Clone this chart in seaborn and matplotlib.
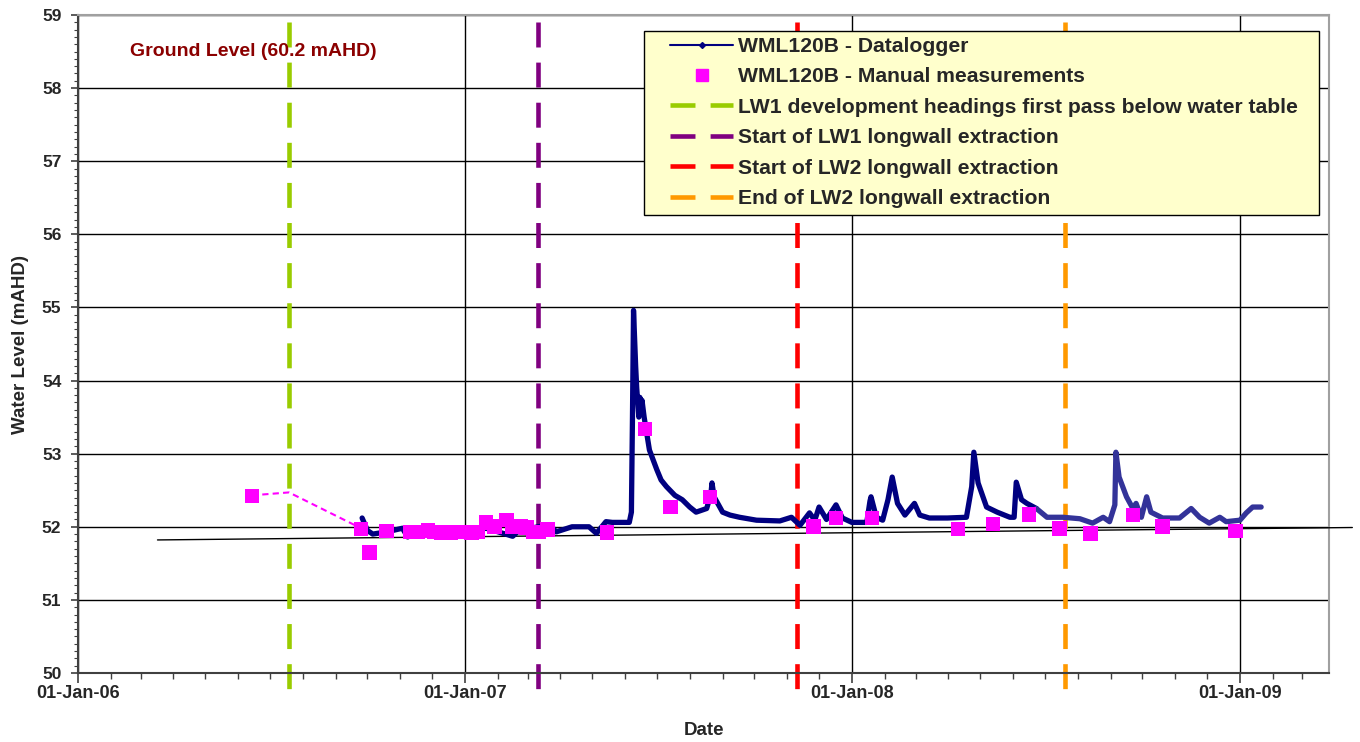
import numpy as np
import pandas as pd
import matplotlib
matplotlib.use("Agg")
import matplotlib.pyplot as plt
import matplotlib.dates as mdates
from matplotlib.lines import Line2D
from matplotlib.patches import Rectangle
import seaborn as sns

# ---------------- data ----------------
logger_dates = [
    "2006-09-26", "2006-10-01", "2006-10-06", "2006-10-19", "2006-11-03", "2006-11-08",
    "2006-11-13", "2006-12-08", "2007-01-02", "2007-01-21", "2007-02-15", "2007-02-21",
    "2007-03-22", "2007-03-28", "2007-04-12", "2007-04-28", "2007-05-05", "2007-05-14",
    "2007-05-20", "2007-06-05", "2007-06-07", "2007-06-08", "2007-06-09", "2007-06-11",
    "2007-06-12", "2007-06-14", "2007-06-15", "2007-06-16", "2007-06-17", "2007-06-19",
    "2007-06-21", "2007-06-24", "2007-07-01", "2007-07-05", "2007-07-10", "2007-07-18",
    "2007-07-25", "2007-08-01", "2007-08-07",
    "2007-08-17", "2007-08-21", "2007-08-22", "2007-08-24", "2007-09-01", "2007-09-08",
    "2007-09-17",
    "2007-10-03", "2007-10-25", "2007-11-05", "2007-11-13", "2007-11-22", "2007-11-27",
    "2007-12-01", "2007-12-08", "2007-12-17", "2007-12-23", "2008-01-01", "2008-01-15",
    "2008-01-18", "2008-01-19", "2008-01-24", "2008-01-30", "2008-02-04", "2008-02-08",
    "2008-02-13", "2008-02-20", "2008-02-29", "2008-03-05", "2008-03-14", "2008-03-31",
    "2008-04-18", "2008-04-23", "2008-04-25", "2008-04-29", "2008-05-07", "2008-05-17",
    "2008-05-29", "2008-06-02", "2008-06-04", "2008-06-09", "2008-06-14", "2008-06-23",
    "2008-07-03", "2008-07-18", "2008-08-03", "2008-08-15", "2008-08-25", "2008-08-31",
    "2008-09-05", "2008-09-06", "2008-09-09", "2008-09-16", "2008-09-22", "2008-09-25",
    "2008-09-30", "2008-10-05", "2008-10-09", "2008-10-20", "2008-11-05", "2008-11-16",
    "2008-11-24", "2008-12-03", "2008-12-13", "2008-12-19", "2009-01-01", "2009-01-07",
    "2009-01-13", "2009-01-21",
]
logger_levels = [
    52.12, 51.95, 51.90, 51.93, 51.98, 51.86,
    51.93, 51.94, 51.93, 51.98, 51.87, 51.95,
    52.03, 51.93, 52.00, 52.00, 51.91, 52.07,
    52.06, 52.06, 52.20, 53.50, 54.96, 54.20,
    53.90, 53.50, 53.77, 53.60, 53.73, 53.50,
    53.32, 53.05, 52.78, 52.64, 52.55, 52.43,
    52.37, 52.27, 52.20,
    52.25, 52.45, 52.60, 52.41, 52.20, 52.16,
    52.13,
    52.09, 52.08, 52.13, 52.02, 52.19, 52.09,
    52.27, 52.10, 52.30, 52.12, 52.06, 52.06,
    52.35, 52.41, 52.13, 52.09, 52.37, 52.68,
    52.32, 52.16, 52.32, 52.16, 52.12, 52.12,
    52.13, 52.55, 53.02, 52.60, 52.27, 52.20,
    52.13, 52.13, 52.61, 52.37, 52.32, 52.25,
    52.13, 52.13, 52.11, 52.05, 52.13, 52.07,
    52.30, 53.02, 52.68, 52.41, 52.25, 52.32,
    52.13, 52.41, 52.20, 52.12, 52.12, 52.25,
    52.13, 52.05, 52.13, 52.07, 52.09, 52.19,
    52.27, 52.27,
]
logger_split_date = "2008-06-23"

manual_dates = [
    "2006-06-14", "2006-09-25", "2006-10-03", "2006-10-19", "2006-11-10", "2006-11-17",
    "2006-11-27", "2006-12-03", "2006-12-10", "2006-12-19", "2006-12-25", "2007-01-01",
    "2007-01-07", "2007-01-13", "2007-01-21", "2007-01-29", "2007-02-09", "2007-02-15",
    "2007-02-23", "2007-02-28", "2007-03-06", "2007-03-12", "2007-03-20", "2007-05-15",
    "2007-06-20", "2007-07-14", "2007-08-20", "2007-11-26", "2007-12-17", "2008-01-20",
    "2008-04-10", "2008-05-13", "2008-06-16", "2008-07-15", "2008-08-13", "2008-09-22",
    "2008-10-20", "2008-12-28",
]
manual_levels = [
    52.42, 51.97, 51.65, 51.94, 51.93, 51.93,
    51.95, 51.93, 51.92, 51.92, 51.93, 51.93,
    51.92, 51.93, 52.06, 52.00, 52.09, 52.00,
    52.00, 51.99, 51.93, 51.93, 51.96, 51.92,
    53.34, 52.27, 52.41, 52.00, 52.12, 52.12,
    51.97, 52.04, 52.17, 51.98, 51.91, 52.16,
    52.00, 51.94,
]

gap_dates = ["2006-06-14", "2006-07-19", "2006-09-25"]
gap_levels = [52.43, 52.47, 51.98]

trend_dates = ["2006-03-17", "2009-04-17"]
trend_levels = [51.82, 51.99]

event_dates = ["2006-07-19", "2007-03-11", "2007-11-10", "2008-07-20"]
event_labels = [
    "LW1 development headings first pass below water table",
    "Start of LW1 longwall extraction",
    "Start of LW2 longwall extraction",
    "End of LW2 longwall extraction",
]
event_colors = ["#99CC00", "#800080", "#FF0000", "#FF9900"]
event_span = [58.9, 49.78]

x_limits = ["2006-01-01", "2009-03-26"]
y_limits = [50, 59]

# ---------------- style ----------------
sns.set_style("ticks")
plt.rcParams["font.family"] = ["Liberation Sans", "DejaVu Sans"]
plt.rcParams["font.weight"] = "bold"
plt.rcParams["axes.labelweight"] = "bold"

W, H = 1360, 742
L, R, T, B = 78, 1329, 15, 673
fig = plt.figure(figsize=(W / 100, H / 100), dpi=100)
ax = fig.add_axes([L / W, (H - B) / H, (R - L) / W, (B - T) / H])


def ax_x(px):
    return (px - L) / (R - L)


def ax_y(py):
    return (B - py) / (B - T)


logger = pd.DataFrame({"date": pd.to_datetime(logger_dates), "level": logger_levels})
manual = pd.DataFrame({"date": pd.to_datetime(manual_dates), "level": manual_levels})
gap = pd.DataFrame({"date": pd.to_datetime(gap_dates), "level": gap_levels})
trend = pd.DataFrame({"date": pd.to_datetime(trend_dates), "level": trend_levels})
split = pd.Timestamp(logger_split_date)

# event lines
dash_lw = 3.3
dash_pat = (5.45, 3.3)
for d, c in zip(event_dates, event_colors):
    ax.plot([pd.Timestamp(d)] * 2, event_span, color=c, lw=dash_lw, dashes=dash_pat,
            zorder=2, clip_on=False, solid_capstyle="butt", dash_capstyle="butt")

# trend line (extends past the frame as in the original)
ax.plot(trend["date"], trend["level"], color="black", lw=1.0, zorder=3, clip_on=False)

# dashed manual connector
ax.plot(gap["date"], gap["level"], color="#FF00FF", lw=1.5, dashes=(3, 2), zorder=3)

# datalogger
early = logger[logger["date"] <= split]
late = logger[logger["date"] >= split]
sns.lineplot(data=early, x="date", y="level", ax=ax, color="#000080", lw=3.8,
             estimator=None, sort=False, zorder=4, legend=False)
sns.lineplot(data=late, x="date", y="level", ax=ax, color="#333399", lw=3.8,
             estimator=None, sort=False, zorder=4, legend=False)

# manual measurements
sns.scatterplot(data=manual, x="date", y="level", ax=ax, color="#FF00FF", marker="s",
                s=110, edgecolor="none", linewidth=0, zorder=5, legend=False)

# axes
ax.set_xlim(pd.Timestamp(x_limits[0]), pd.Timestamp(x_limits[1]))
ax.set_ylim(*y_limits)
ax.xaxis.set_major_locator(mdates.YearLocator())
ax.xaxis.set_major_formatter(mdates.DateFormatter("%d-%b-%y"))
ax.xaxis.set_minor_locator(mdates.MonthLocator())
ax.yaxis.set_major_locator(matplotlib.ticker.MultipleLocator(1))
ax.yaxis.set_minor_locator(matplotlib.ticker.MultipleLocator(0.1))

ax.grid(True, which="major", axis="both", color="black", lw=1.0, zorder=1)
ax.set_axisbelow(True)

ax.tick_params(axis="x", which="major", direction="out", length=7, width=1.2,
               color="#404040", labelsize=13, pad=2)
ax.tick_params(axis="x", which="minor", direction="out", length=4, width=1.0,
               color="#404040")
ax.tick_params(axis="y", which="major", direction="out", length=5, width=1.2,
               color="#404040", labelsize=12.5, pad=7)
ax.tick_params(axis="y", which="minor", direction="out", length=3, width=0.8,
               color="#404040")
for lab in ax.get_xticklabels() + ax.get_yticklabels():
    lab.set_fontweight("bold")

for side in ["left", "bottom"]:
    ax.spines[side].set_color("#404040")
    ax.spines[side].set_linewidth(1.5)
for side in ["top", "right"]:
    ax.spines[side].set_visible(True)
    ax.spines[side].set_color("#A0A0A0")
    ax.spines[side].set_linewidth(1.5)

ax.set_xlabel("Date", fontsize=13.5, fontweight="bold")
ax.set_ylabel("Water Level (mAHD)", fontsize=13.5, fontweight="bold")
ax.xaxis.set_label_coords(ax_x(704), ax_y(722))
ax.yaxis.set_label_coords(ax_x(29), ax_y(345))

ax.text(ax_x(130), ax_y(52), "Ground Level (60.2 mAHD)", transform=ax.transAxes,
        color="#8B0000", fontsize=14, fontweight="bold", ha="left", va="center")

# legend box
box = Rectangle((ax_x(644), ax_y(215)), ax_x(1319) - ax_x(644), ax_y(31) - ax_y(215),
                transform=ax.transAxes, facecolor="#FFFFCC", edgecolor="black",
                lw=1.0, zorder=9, clip_on=False)
ax.add_patch(box)

handles = [
    Line2D([0, 0.5, 1], [0, 0, 0], color="#000080", lw=1.5, marker="D", markersize=3,
           markevery=[1], label="WML120B - Datalogger"),
    Line2D([], [], color="#FF00FF", lw=0, marker="s", markersize=9,
           label="WML120B - Manual measurements"),
]
for lab, c in zip(event_labels, event_colors):
    handles.append(Line2D([], [], color=c, lw=dash_lw, dashes=dash_pat, label=lab,
                          dash_capstyle="butt"))
leg = ax.legend(handles=handles, loc="upper left",
                bbox_to_anchor=(ax_x(670), ax_y(37)),
                borderaxespad=0, borderpad=0, frameon=False,
                prop={"size": 15.2, "weight": "bold"}, handlelength=3.0,
                handletextpad=0.2, labelspacing=0.54)
leg.set_zorder(10)

fig.savefig("out.png", dpi=100)
